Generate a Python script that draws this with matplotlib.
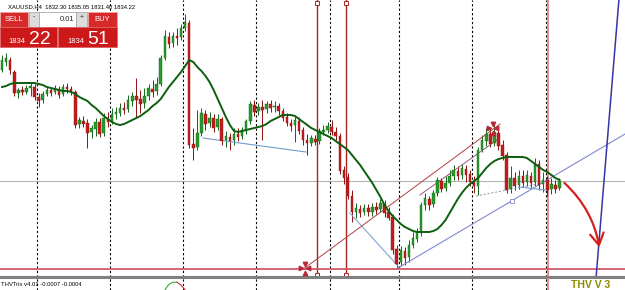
import numpy as np
import matplotlib.pyplot as plt
from matplotlib.patches import Rectangle, FancyArrowPatch

W, H = 625, 290

# XAUUSD H4 candles
opens = [1845.3, 1846.1, 1846.3, 1845.1, 1843.0, 1843.3, 1843.1, 1843.5, 1843.6, 1842.6,
         1842.3, 1842.9, 1843.3, 1843.1, 1843.4, 1842.9, 1843.6, 1843.4, 1843.1, 1839.9,
         1840.2, 1840.0, 1839.1, 1839.4, 1840.1, 1839.0, 1840.5, 1840.2, 1840.9, 1841.0,
         1841.5, 1841.4, 1842.2, 1842.7, 1842.4, 1842.0, 1842.7, 1843.4, 1843.2, 1843.9,
         1846.5, 1848.6, 1848.0, 1848.7, 1848.6, 1849.5, 1850.0, 1837.9, 1837.6, 1839.0,
         1840.9, 1840.0, 1840.5, 1839.6, 1840.4, 1838.3, 1838.6, 1838.3, 1838.9, 1838.7,
         1839.3, 1840.2, 1841.8, 1841.2, 1841.6, 1841.4, 1841.9, 1841.6, 1841.7, 1841.2,
         1840.6, 1840.0, 1839.8, 1840.2, 1839.3, 1838.3, 1838.0, 1838.4, 1838.2, 1839.1,
         1839.3, 1839.6, 1839.1, 1838.7, 1835.3, 1834.6, 1832.7, 1831.1, 1831.4, 1831.1,
         1831.5, 1831.1, 1831.6, 1831.4, 1831.9, 1831.1, 1830.6, 1827.4, 1826.1, 1827.2,
         1826.6, 1827.8, 1828.4, 1829.0, 1831.8, 1832.4, 1831.9, 1833.0, 1834.2, 1833.5,
         1834.0, 1834.7, 1835.2, 1834.8, 1835.4, 1834.9, 1834.2, 1833.7, 1837.3, 1838.2,
         1838.9, 1838.0, 1839.0, 1837.8, 1836.8, 1833.4, 1834.5, 1833.8, 1834.7, 1834.1,
         1834.7, 1834.1, 1835.9, 1833.9, 1834.3, 1833.4, 1833.8, 1833.5]
closes = [1846.3, 1846.5, 1845.3, 1843.0, 1843.3, 1843.1, 1843.5, 1843.7, 1842.6, 1842.2,
          1842.9, 1843.3, 1843.0, 1843.5, 1842.8, 1843.6, 1843.4, 1843.1, 1839.8, 1840.3,
          1839.9, 1839.0, 1839.5, 1840.1, 1838.9, 1840.5, 1840.1, 1840.9, 1841.1, 1841.5,
          1841.3, 1842.3, 1842.7, 1842.3, 1841.9, 1842.7, 1843.5, 1843.1, 1843.9, 1846.5,
          1848.7, 1847.9, 1848.7, 1848.5, 1849.5, 1850.1, 1837.8, 1837.5, 1839.0, 1841.0,
          1839.9, 1840.5, 1839.5, 1840.4, 1838.2, 1838.7, 1838.2, 1838.9, 1838.6, 1839.3,
          1840.2, 1841.9, 1841.1, 1841.6, 1841.3, 1841.9, 1841.5, 1841.7, 1841.2, 1840.5,
          1840.0, 1839.7, 1840.3, 1839.2, 1838.3, 1838.0, 1838.5, 1838.1, 1839.2, 1839.3,
          1839.7, 1839.1, 1838.7, 1835.2, 1834.5, 1832.7, 1831.1, 1831.5, 1831.0, 1831.5,
          1831.1, 1831.6, 1831.3, 1832.0, 1831.0, 1830.5, 1827.3, 1825.9, 1827.3, 1826.5,
          1827.8, 1828.5, 1829.1, 1831.8, 1832.5, 1831.8, 1833.0, 1834.3, 1833.4, 1834.0,
          1834.7, 1835.3, 1834.7, 1835.5, 1834.8, 1834.1, 1833.7, 1837.3, 1838.3, 1838.9,
          1837.9, 1839.1, 1837.7, 1836.7, 1833.3, 1834.5, 1833.7, 1834.7, 1834.0, 1834.8,
          1834.0, 1836.0, 1833.8, 1834.3, 1833.3, 1833.9, 1833.4, 1834.2]
highs = [1846.8, 1847.0, 1846.6, 1845.3, 1843.5, 1843.7, 1843.8, 1844.0, 1843.9, 1843.0,
         1843.2, 1843.6, 1843.5, 1843.8, 1843.7, 1843.9, 1844.0, 1843.7, 1843.3, 1840.6,
         1840.7, 1840.4, 1839.8, 1840.5, 1840.5, 1841.0, 1841.1, 1841.5, 1841.6, 1842.0,
         1842.1, 1842.8, 1843.1, 1844.5, 1843.3, 1843.5, 1843.9, 1844.3, 1844.6, 1846.8,
         1849.3, 1849.1, 1849.1, 1849.5, 1849.9, 1850.9, 1850.3, 1839.5, 1841.3, 1841.5,
         1841.3, 1841.1, 1840.9, 1840.9, 1840.6, 1839.2, 1839.0, 1839.5, 1839.5, 1839.6,
         1840.4, 1842.2, 1842.3, 1842.0, 1842.3, 1842.2, 1842.3, 1842.2, 1842.0, 1841.5,
         1841.0, 1840.4, 1840.7, 1840.6, 1839.6, 1838.9, 1838.8, 1838.8, 1839.5, 1839.8,
         1840.1, 1840.3, 1839.6, 1839.0, 1835.7, 1835.0, 1833.3, 1832.0, 1831.8, 1831.9,
         1831.9, 1832.0, 1832.1, 1832.4, 1832.3, 1831.6, 1830.9, 1827.8, 1827.7, 1827.6,
         1828.3, 1829.1, 1829.5, 1832.1, 1833.0, 1832.7, 1833.3, 1834.6, 1834.5, 1834.7,
         1835.3, 1835.8, 1835.7, 1835.9, 1835.8, 1835.3, 1834.7, 1837.6, 1838.8, 1839.5,
         1839.5, 1839.9, 1839.6, 1838.3, 1837.1, 1835.7, 1835.1, 1835.3, 1835.3, 1835.3,
         1835.1, 1836.5, 1836.3, 1835.1, 1834.7, 1834.5, 1834.3, 1834.5]
lows = [1845.1, 1845.7, 1844.9, 1842.7, 1842.5, 1842.8, 1842.9, 1842.7, 1842.3, 1841.6,
        1842.0, 1842.7, 1842.7, 1842.9, 1842.5, 1842.7, 1843.0, 1842.8, 1839.5, 1839.5,
        1839.6, 1837.5, 1838.5, 1838.7, 1838.6, 1838.7, 1839.6, 1839.9, 1840.4, 1840.7,
        1840.9, 1841.1, 1841.7, 1840.5, 1841.0, 1841.5, 1842.3, 1842.6, 1842.8, 1843.7,
        1846.3, 1847.5, 1847.6, 1847.8, 1848.3, 1849.2, 1837.5, 1836.3, 1837.3, 1838.7,
        1839.3, 1839.6, 1839.1, 1839.3, 1837.8, 1837.6, 1837.3, 1837.8, 1838.2, 1838.4,
        1838.9, 1839.9, 1840.7, 1840.8, 1838.3, 1841.0, 1841.1, 1841.1, 1840.8, 1840.2,
        1839.7, 1839.2, 1838.1, 1838.9, 1837.8, 1836.8, 1837.7, 1837.8, 1837.9, 1838.8,
        1839.0, 1838.8, 1838.3, 1834.9, 1833.9, 1832.4, 1830.1, 1830.5, 1830.6, 1830.8,
        1830.7, 1830.7, 1830.9, 1831.1, 1830.6, 1830.3, 1826.9, 1825.5, 1825.7, 1825.8,
        1826.1, 1827.5, 1828.1, 1828.7, 1831.3, 1831.3, 1831.6, 1832.7, 1833.1, 1833.2,
        1833.7, 1834.3, 1834.3, 1834.4, 1834.1, 1833.7, 1833.0, 1832.8, 1837.1, 1837.7,
        1837.6, 1837.7, 1837.3, 1836.3, 1833.0, 1833.0, 1833.3, 1833.4, 1833.6, 1833.7,
        1833.5, 1833.7, 1833.3, 1833.1, 1832.7, 1832.9, 1833.0, 1833.3]
# moving average (dark green line)
ma = [1843.6, 1843.7, 1843.9, 1844.0, 1844.0, 1844.0, 1844.0, 1844.0, 1844.0, 1843.9,
      1843.8, 1843.6, 1843.5, 1843.4, 1843.3, 1843.2, 1843.2, 1843.1, 1842.9, 1842.6,
      1842.4, 1842.2, 1841.8, 1841.5, 1841.1, 1840.7, 1840.4, 1840.1, 1839.9, 1839.8,
      1839.9, 1840.1, 1840.3, 1840.5, 1840.7, 1841.0, 1841.3, 1841.7, 1842.0, 1842.4,
      1843.0, 1843.6, 1844.1, 1844.6, 1845.1, 1845.7, 1846.3, 1846.1, 1845.6, 1845.2,
      1844.7, 1844.1, 1843.3, 1842.4, 1841.5, 1840.6, 1839.8, 1839.2, 1839.1, 1839.2,
      1839.3, 1839.4, 1839.5, 1839.6, 1839.7, 1839.9, 1840.2, 1840.4, 1840.6, 1840.8,
      1840.8, 1840.8, 1840.7, 1840.4, 1840.1, 1839.8, 1839.5, 1839.3, 1839.1, 1838.9,
      1838.7, 1838.5, 1838.2, 1837.9, 1837.6, 1837.3, 1836.8, 1836.3, 1835.8, 1835.2,
      1834.6, 1834.0, 1833.3, 1832.6, 1831.8, 1831.2, 1830.7, 1830.3, 1829.9, 1829.6,
      1829.4, 1829.2, 1829.1, 1829.1, 1829.1, 1829.1, 1829.2, 1829.4, 1829.8, 1830.3,
      1831.0, 1831.7, 1832.4, 1833.0, 1833.5, 1833.9, 1834.2, 1834.5, 1835.0, 1835.5,
      1835.9, 1836.2, 1836.4, 1836.5, 1836.6, 1836.6, 1836.6, 1836.6, 1836.6, 1836.5,
      1836.2, 1835.9, 1835.6, 1835.3, 1835.1, 1834.8, 1834.5, 1834.3]

bid = 1834.22
red_level = 1825.4
separators = [8.5, 26.5, 44.5, 62.5, 80.5, 97.5, 115.5, 133.6]
red_vlines = [77.4, 84.5]
pink_vline = 134.2

# hand drawn objects: (bar index, price) endpoints
trend_blue = ([49.4, 74.7], [1838.5, 1837.1])
trend_down = ([85.5, 97.3], [1831.0, 1825.7])
trend_up = ([97.3, 153.1], [1825.5, 1838.9])
channel_a = ([74.4, 122.4], [1825.5, 1839.9])
channel_b = ([102.7, 121.6], [1832.8, 1838.3])
dash_gray = ([116.5, 133.0], [1832.7, 1834.0])
blue_short = ([127.0, 133.5], [1833.6, 1833.3])
steep_blue = ([146.0, 151.6], [1824.6, 1852.3])
fractals = [(74.4, 1825.5), (120.6, 1839.5)]
forecast = [(137.7, 1834.2), (146.9, 1827.3)]

# THVTrix sub window
trix_x = [40, 41, 42, 43]
trix_g = [-0.0005, 0.0003, 0.0006, 0.0006]
trix_rx = [43, 44, 45]
trix_r = [0.0006, 0.0002, -0.0005]

header = "XAUUSD,H4  1832.30 1835.05 1831.40 1834.22"
sub_label = "THVTrix v4.01 -0.0007 -0.0004"

GREEN, RED = '#2a9a2a', '#c41c1c'

fig = plt.figure(figsize=(6.25, 2.9), dpi=100)
ax = fig.add_axes([0, 13 / H, 1, 277 / H])
ax.set_xlim(-0.5, 153.1)
ax.set_ylim(1824.6, 1852.3)
ax.axis('off')

idx = np.arange(len(closes))
o = np.array(opens)
c = np.array(closes)
cols = [GREEN if cc >= oo else RED for oo, cc in zip(o, c)]
edges = ['#11661a' if cc >= oo else '#8e1010' for oo, cc in zip(o, c)]

# grid-ish lines first
ax.axhline(bid, color='#b4b4b4', lw=0.8, zorder=1)
for s in separators:
    ax.axvline(s, color='black', ls=(0, (2, 2)), lw=0.8, zorder=1)
for v in red_vlines:
    ax.axvline(v, color='#a52525', lw=1.0, zorder=2)
    ax.plot([v, v], [1852.0, 1824.8], 's', ms=2.5, mfc='white', mec='#a52525',
            mew=0.7, clip_on=False, zorder=3)
ax.axvline(pink_vline, color='#e58a8a', lw=1.4, zorder=2)
ax.axhline(red_level, color='#d25a6a', lw=1.3, zorder=2)
ax.axhline(1824.6, color='#808080', lw=2.2, clip_on=False, zorder=4)

# candles
ax.vlines(idx, lows, highs, colors=edges, lw=0.7, zorder=3)
body = np.maximum(np.abs(c - o), 0.06)
ax.bar(idx, body, bottom=np.minimum(o, c), width=0.62, color=cols,
       edgecolor=edges, lw=0.3, zorder=4)

ax.plot(idx, ma, color='#0d5e0d', lw=1.4, zorder=5)

# trend lines and channel
ax.plot(*trend_blue, color='#6f9ccf', lw=0.8, zorder=3)
ax.plot(*trend_down, color='#7fa6d6', lw=0.8, zorder=3)
ax.plot(*trend_up, color='#8088d0', lw=0.8, zorder=3)
ax.plot(*channel_a, color='#b04040', lw=0.7, zorder=3)
ax.plot(*channel_b, color='#9a5a7a', lw=0.7, zorder=3)
ax.plot(*dash_gray, color='#8890a8', lw=0.7, ls=(0, (2, 2)), zorder=3)
ax.plot(*blue_short, color='#6f9ccf', lw=0.8, zorder=3)
ax.plot([125.3], [1832.2], 's', ms=2.5, mfc='white', mec='#8088d0', mew=0.6, zorder=4)
ax.plot(*steep_blue, color='#3535a5', lw=1.1, zorder=3)

for fx, fp in fractals:
    kw = dict(color='#b8283a', ms=3.2, zorder=6, clip_on=False)
    ax.plot(fx, fp + 0.45, 'v', **kw)
    ax.plot(fx, fp - 0.45, '^', **kw)
    ax.plot(fx - 0.9, fp, '>', **kw)
    ax.plot(fx + 0.9, fp, '<', **kw)

arr = FancyArrowPatch(forecast[0], forecast[1], connectionstyle='arc3,rad=-0.18',
                      arrowstyle='->,head_length=0.6,head_width=0.35',
                      mutation_scale=14, color='#d42020', lw=1.6, zorder=6)
ax.add_patch(arr)

# sub window
ax2 = fig.add_axes([0, 0, 1, 12 / H])
ax2.set_xlim(-0.5, 153.1)
ax2.set_ylim(-0.0005, 0.0012)
ax2.axis('off')
for s in separators:
    ax2.axvline(s, color='black', ls=(0, (2, 2)), lw=0.8)
ax2.axvline(pink_vline, color='#e58a8a', lw=1.4)
ax2.plot(trix_x, trix_g, color='#3aa83a', lw=0.8)
ax2.plot(trix_rx, trix_r, color='#d03030', lw=0.8)


def fx_(x):
    return x / W


def fy_(y):
    return 1 - y / H


def box(x0, y0, x1, y1, fc, ec):
    fig.add_artist(Rectangle((fx_(x0), fy_(y1)), (x1 - x0) / W, (y1 - y0) / H,
                             transform=fig.transFigure, fc=fc, ec=ec, lw=0.6))


LS = ['Liberation Sans', 'DejaVu Sans']
fig.text(fx_(8), fy_(6.5), header, fontsize=4.2, va='center', family=LS)
fig.text(fx_(1), fy_(284), sub_label, fontsize=4.2, va='center', family=LS)
fig.text(fx_(571), fy_(280.5), "THV V 3", fontsize=7.5, fontweight='bold',
         color='#8a8a00', va='top', family=LS)

# one-click trading panel
box(0, 12, 28, 27, '#d62a2a', '#f0a0a0')
box(29, 12, 39, 27, '#dcdcdc', '#a8a8a8')
box(39, 12, 76, 27, 'white', '#a8a8a8')
box(76, 12, 87, 27, '#dcdcdc', '#a8a8a8')
box(88, 12, 117, 27, '#d62a2a', '#f0a0a0')
box(0, 27, 57, 47, '#cc1818', '#e06060')
box(58, 27, 117, 47, '#cc1818', '#e06060')
fig.text(fx_(14), fy_(19.5), "SELL", fontsize=5.5, color='white', ha='center', va='center', family=LS)
fig.text(fx_(102), fy_(19.5), "BUY", fontsize=5.5, color='white', ha='center', va='center', family=LS)
fig.text(fx_(34), fy_(17), "-", fontsize=5, color='#333333', ha='center', va='center', family=LS)
fig.text(fx_(81.5), fy_(17), "+", fontsize=5, color='#333333', ha='center', va='center', family=LS)
fig.text(fx_(74), fy_(19.5), "0.01", fontsize=5.5, color='#222222', ha='right', va='center', family=LS)
fig.text(fx_(8), fy_(43), "1834", fontsize=5.5, color='white', va='baseline', family=LS)
fig.text(fx_(29), fy_(43.5), "22", fontsize=14, color='white', va='baseline', family=LS)
fig.text(fx_(67), fy_(43), "1834", fontsize=5.5, color='white', va='baseline', family=LS)
fig.text(fx_(87), fy_(43.5), "51", fontsize=14, color='white', va='baseline', family=LS)

fig.savefig('out.png', dpi=100, facecolor='white')
